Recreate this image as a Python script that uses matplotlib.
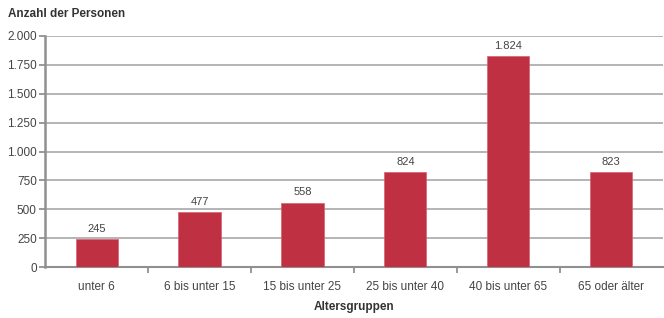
import numpy as np
import matplotlib.pyplot as plt

plt.rcParams['font.family'] = ['Liberation Sans', 'DejaVu Sans']

# Daten
gruppen = ['unter 6', '6 bis unter 15', '15 bis unter 25', '25 bis unter 40',
           '40 bis unter 65', '65 oder älter']
personen = [245, 477, 558, 824, 1824, 823]
y_ticks = [0, 250, 500, 750, 1000, 1250, 1500, 1750, 2000]

def de_format(v):
    return f'{v:,}'.replace(',', '.')

fig = plt.figure(figsize=(6.64, 3.18), dpi=100)
ax = fig.add_axes([0.068, 0.160, 0.930, 0.727])

x = np.arange(len(gruppen))
ax.bar(x, personen, width=0.41, color='#BE3042', edgecolor='#D86070', linewidth=0.5, zorder=3)

for xi, v in zip(x, personen):
    ax.text(xi, v + 45, de_format(v), ha='center', va='bottom', fontsize=8, color='#444444')

ax.set_xlim(-0.5, len(gruppen) - 0.5)
ax.set_ylim(0, 2000)
ax.set_yticks(y_ticks)
ax.set_yticklabels([de_format(t) for t in y_ticks], fontsize=8.5, color='#444444')
ax.set_xticks(x)
ax.set_xticklabels(gruppen, fontsize=8.5, color='#444444')
ax.tick_params(axis='x', length=0, pad=10)
ax.tick_params(axis='y', length=4, width=1.2, color='#888888', pad=2)
ax.set_xticks(np.arange(0.5, len(gruppen) - 0.5, 1), minor=True)
ax.tick_params(axis='x', which='minor', length=4, width=1.2, color='#888888')

ax.grid(axis='y', color='#A8A8A8', linewidth=1.2, zorder=0)
for s in ['top', 'right']:
    ax.spines[s].set_visible(False)
ax.spines['left'].set_color('#909090')
ax.spines['left'].set_linewidth(1.8)
ax.spines['bottom'].set_color('#909090')
ax.spines['bottom'].set_linewidth(1.5)

ax.set_xlabel('Altersgruppen', fontsize=8.5, fontweight='bold', color='#333333', labelpad=6)
fig.text(0.012, 0.945, 'Anzahl der Personen', fontsize=8.5, fontweight='bold', color='#333333')

fig.savefig('out.png', dpi=100)
